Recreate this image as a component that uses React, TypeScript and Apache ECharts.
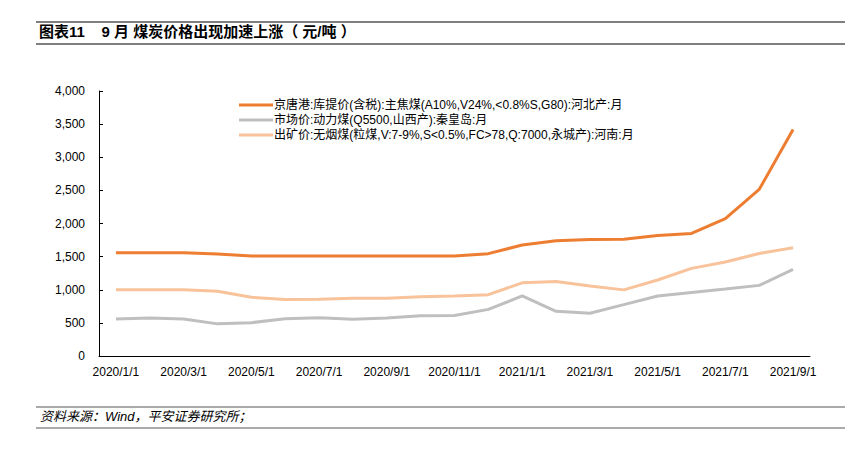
import React, { useEffect, useRef } from "react";
import * as echarts from "echarts";

const categories = [
  "2020/1/1", "2020/2/1", "2020/3/1", "2020/4/1", "2020/5/1", "2020/6/1", "2020/7/1",
  "2020/8/1", "2020/9/1", "2020/10/1", "2020/11/1", "2020/12/1", "2021/1/1", "2021/2/1",
  "2021/3/1", "2021/4/1", "2021/5/1", "2021/6/1", "2021/7/1", "2021/8/1", "2021/9/1",
];
const cokingCoal = [1560, 1560, 1560, 1540, 1510, 1510, 1510, 1510, 1510, 1510, 1510, 1545, 1675, 1740, 1760, 1762, 1820, 1850, 2075, 2515, 3420];
const thermalCoal = [558, 573, 558, 485, 503, 563, 578, 555, 573, 608, 610, 704, 906, 674, 645, 775, 906, 960, 1010, 1066, 1308];
const anthracite = [1000, 1000, 1000, 976, 886, 852, 855, 870, 873, 895, 905, 926, 1105, 1125, 1057, 998, 1147, 1323, 1419, 1548, 1635];
const seriesNames = [
  "京唐港:库提价(含税):主焦煤(A10%,V24%,<0.8%S,G80):河北产:月",
  "市场价:动力煤(Q5500,山西产):秦皇岛:月",
  "出矿价:无烟煤(粒煤,V:7-9%,S<0.5%,FC>78,Q:7000,永城产):河南:月",
];
const titleText = "图表11    9 月 煤炭价格出现加速上涨（ 元/吨 ）";
const sourceText = "资料来源：Wind，平安证券研究所；";

const FONT = "'Liberation Sans', Arial, 'Noto Sans CJK SC', sans-serif";

export default function App() {
  const ref = useRef<HTMLDivElement>(null);
  useEffect(() => {
    if (!ref.current) return;
    const chart = echarts.init(ref.current, null, { renderer: "svg" });
    const colors = ["#ED7D31", "#BFBFBF", "#F8C29A"];
    const datas = [cokingCoal, thermalCoal, anthracite];
    chart.setOption({
      animation: false,
      backgroundColor: "#ffffff",
      textStyle: { fontFamily: FONT },
      graphic: [
        { type: "line", shape: { x1: 36, y1: 22, x2: 845, y2: 22 }, style: { stroke: "#555", lineWidth: 1.5 } },
        { type: "line", shape: { x1: 36, y1: 44, x2: 845, y2: 44 }, style: { stroke: "#555", lineWidth: 1.5 } },
        {
          type: "text", left: 39, top: 24,
          style: { text: titleText, font: `bold 15px ${FONT}`, fill: "#000" },
        },
        { type: "line", shape: { x1: 36, y1: 407, x2: 845, y2: 407 }, style: { stroke: "#555", lineWidth: 1 } },
        { type: "line", shape: { x1: 36, y1: 428, x2: 845, y2: 428 }, style: { stroke: "#555", lineWidth: 1 } },
        {
          type: "text", left: 40, top: 410,
          style: { text: sourceText, font: `italic 13px ${FONT}`, fill: "#000" },
        },
      ],
      legend: {
        orient: "vertical",
        left: 234,
        top: 94,
        itemWidth: 34,
        itemHeight: 3,
        itemGap: 3,
        icon: "rect",
        textStyle: { fontSize: 12, color: "#000", fontFamily: FONT, padding: [0, 0, 0, -4] },
        data: seriesNames,
      },
      grid: { left: 99, right: 46, top: 91, bottom: 96, containLabel: false },
      xAxis: {
        type: "category",
        data: categories,
        boundaryGap: true,
        axisLine: { lineStyle: { color: "#000", width: 1 } },
        axisTick: { inside: true, interval: 1, length: 4, lineStyle: { color: "#000" } },
        axisLabel: { interval: 1, color: "#000", fontSize: 12, margin: 10, fontFamily: FONT },
        splitLine: { show: false },
      },
      yAxis: {
        type: "value",
        min: 0,
        max: 4000,
        interval: 500,
        axisLine: { show: true, lineStyle: { color: "#000", width: 1 } },
        axisTick: { show: true, inside: true, length: 4, lineStyle: { color: "#000" } },
        axisLabel: {
          color: "#000", fontSize: 12, margin: 14, fontFamily: FONT,
          formatter: (v: number) => v.toLocaleString("en-US"),
        },
        splitLine: { show: false },
      },
      series: seriesNames.map((name, i) => ({
        name,
        type: "line",
        data: datas[i],
        symbol: "none",
        lineStyle: { color: colors[i], width: 3 },
        itemStyle: { color: colors[i] },
      })),
    });
    return () => chart.dispose();
  }, []);
  return (
    <div
      ref={ref}
      style={{ position: "absolute", left: 0, top: 0, width: 856, height: 452 }}
    />
  );
}
